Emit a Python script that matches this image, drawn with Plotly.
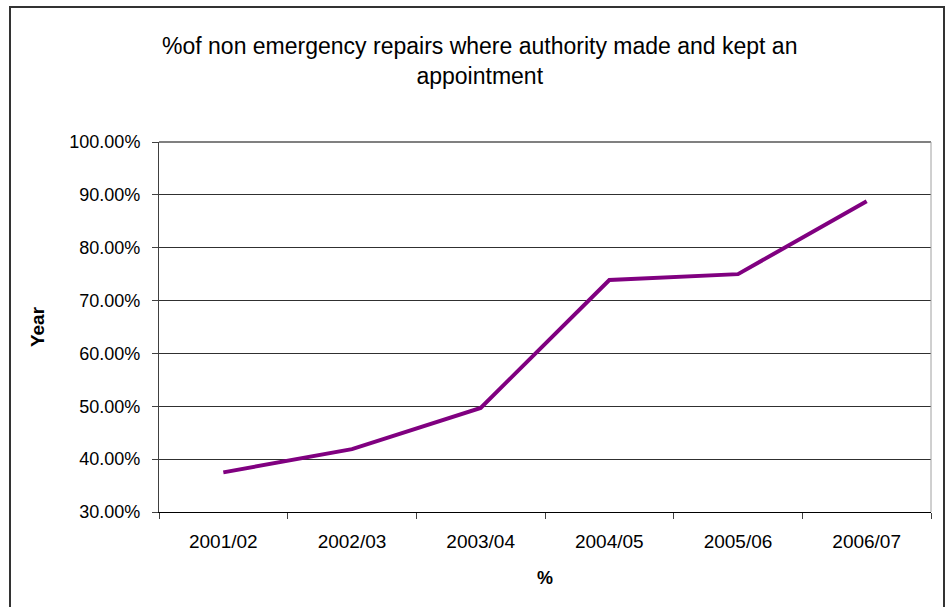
import plotly.graph_objects as go

years = ["2001/02", "2002/03", "2003/04", "2004/05", "2005/06", "2006/07"]
pct = [37.5, 41.9, 49.7, 73.9, 75.0, 88.8]
y_ticks = [30, 40, 50, 60, 70, 80, 90, 100]
y_labels = ["30.00%", "40.00%", "50.00%", "60.00%", "70.00%", "80.00%", "90.00%", "100.00%"]

FONT = "Liberation Sans, Arial, sans-serif"

fig = go.Figure()
fig.add_trace(go.Scatter(x=years, y=pct, mode="lines",
                         line=dict(color="#800080", width=4), showlegend=False))

L, R, T, B = 159, 19, 142, 95
W, H = 950, 607
pw = W - L - R
ph = H - T - B

fig.update_layout(
    width=W, height=H,
    margin=dict(l=L, r=R, t=T, b=B, autoexpand=False),
    paper_bgcolor="white", plot_bgcolor="white",
    font=dict(family=FONT, color="black"),
    title=dict(text="%of non emergency repairs where authority made and kept an<br>appointment",
               x=0.505, xanchor="center", xref="container",
               y=1 - 54 / H, yanchor="top",
               font=dict(size=23, family=FONT, color="black")),
    xaxis=dict(range=[-0.5, len(years) - 0.5], automargin=False,
               showgrid=False, showline=True, linecolor="black", linewidth=1, mirror=False,
               ticks="outside", ticklen=6, tickcolor="#404040", tickson="boundaries",
               ticklabelstandoff=12,
               tickfont=dict(size=19),
               title=dict(text="<b>%</b>", font=dict(size=18), standoff=20)),
    yaxis=dict(range=[30, 100], tickvals=y_ticks, ticktext=y_labels, automargin=False,
               showgrid=True, gridcolor="#303030", gridwidth=1,
               showline=True, linecolor="#404040", linewidth=1,
               ticks="outside", ticklen=6, tickcolor="#404040",
               ticklabelstandoff=8,
               tickfont=dict(size=18), zeroline=False,
               title=dict(text="<b>Year</b>", font=dict(size=19), standoff=19)),
)

# plot-area top and right border
fig.add_shape(type="line", xref="paper", yref="paper", x0=0, x1=1, y0=1, y1=1,
              line=dict(color="#808080", width=2))
fig.add_shape(type="line", xref="paper", yref="paper", x0=1, x1=1, y0=0, y1=1,
              line=dict(color="#a0a0a0", width=1))

# outer chart frame
fx0 = (10 - L) / pw
fx1 = (944 - L) / pw
fy1 = (H - B - 7) / ph
fy0 = (H - B - 640) / ph
fig.add_shape(type="rect", xref="paper", yref="paper", x0=fx0, x1=fx1, y0=fy0, y1=fy1,
              line=dict(color="#333333", width=2), layer="below")

fig.write_html("out.html")
